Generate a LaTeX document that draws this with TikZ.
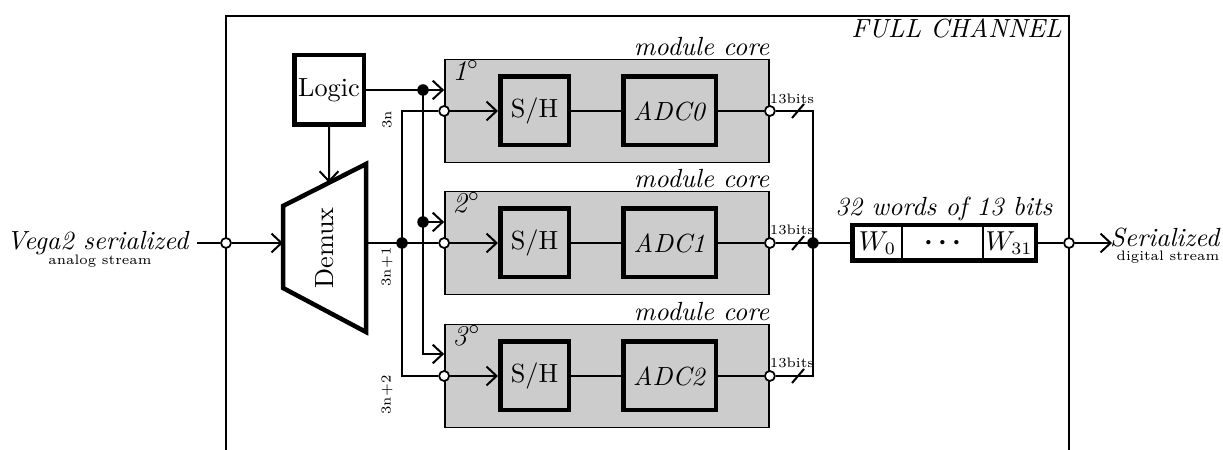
\documentclass[tikz,border=0pt]{standalone}
\usepackage{bm}
\usetikzlibrary{arrows.meta,calc}
\definecolor{modgray}{gray}{0.8}
\tikzset{
  conn/.style={line width=0.8pt},
  arr/.style={conn,-{Straight Barb[length=4pt,width=7.5pt,line width=0.8pt]}},
  thickbox/.style={draw,line width=1.8pt,inner sep=0pt},
  module/.style={draw,line width=0.7pt,fill=modgray,minimum width=129.6pt,minimum height=41.2pt,inner sep=0pt},
  opendot/.style={circle,draw,fill=white,line width=0.7pt,minimum size=4pt,inner sep=0pt},
  blackdot/.style={circle,fill=black,minimum size=4.6pt,inner sep=0pt},
  tinylab/.style={font=\fontsize{5.5}{6.5}\selectfont,inner sep=0pt},
  wcell/.style={draw,line width=0.6pt,minimum height=13.6pt,inner sep=0pt},
  lab/.style={inner sep=0pt},
}
\begin{document}
\begin{tikzpicture}[x=0.4pt,y=-0.4pt,font=\fontsize{10.5}{12.6}\selectfont]
\useasboundingbox (0,0) rectangle (1223,450);
% frame
\draw[line width=0.8pt] (226,470) -- (226,16) -- (1069,16) -- (1069,470);
\node[lab,anchor=base east] (fc) at (1062,38) {\textit{FULL CHANNEL}};

% logic and demux
\node[thickbox,minimum size=27.8pt] (logic) at (329,90) {Logic};
\coordinate (dtl) at (283,206);
\coordinate (dtr) at (366,164);
\coordinate (dbr) at (366,332);
\coordinate (dbl) at (283,288);
\draw[line width=1.8pt,line join=miter] (dtl) -- (dtr) -- (dbr) -- (dbl) -- cycle;
\node[rotate=90] (demuxlab) at (325,248) {Demux};
\coordinate (din) at (283,243);
\coordinate (dout) at (366,243);
\coordinate (dtop) at ($(dtl)!0.5542!(dtr)$);
\draw[arr] (logic.south) -- (dtop);

% modules
\foreach \i/\y/\n in {1/111/0,2/243/1,3/376/2}{
  \node[module] (m\i) at (607,\y) {};
  \node[thickbox,fill=modgray,minimum size=27.4pt] (sh\i) at (534.5,\y) {S/H};
  \node[thickbox,fill=modgray,minimum width=37pt,minimum height=27.4pt] (adc\i) at (669.5,\y) {\textit{ADC\n}};
  \node[lab,anchor=base east] (mc\i) at ($(m\i.north east)+(0,-3)$) {\textit{module core}};
  \node[lab,anchor=base west,font=\fontsize{11.5}{13}\selectfont] (ord\i) at ($(m\i.north west)+(8,22)$) {\textit{\i}$^\circ$};
  \node[opendot] (i\i) at (m\i.west) {};
  \node[opendot] (o\i) at (m\i.east) {};
  \draw[arr] (i\i) -- (sh\i);
  \draw[conn] (sh\i) -- (adc\i);
  \draw[conn] (adc\i) -- (o\i);
}

% input
\node[lab,anchor=base east] (vega) at (190,250) {\textit{Vega2 serialized}};
\node[tinylab,anchor=base] (as) at (100,265) {analog stream};
\node[opendot] (cin) at (226,243) {};
\coordinate (vstart) at (197,243);
\draw[conn] (vstart) -- (cin);
\draw[arr] (cin) -- (din);

% logic to modules
\node[blackdot] (b1) at (423,90) {};
\node[blackdot] (b2) at (423,222) {};
\coordinate (t3) at (423,354);
\draw[arr] (logic.east) -- (logic.east -| m1.west);
\draw[arr] (b1.center) -- (t3) -- (t3 -| m3.west);
\draw[arr] (b2.center) -- (b2 -| m2.west);

% demux to modules
\node[blackdot] (b3) at (402,243) {};
\coordinate (v1) at (402,111);
\coordinate (v3) at (402,376);
\draw[conn] (dout) -- (i2);
\draw[conn] (i1) -- (v1) -- (v3) -- (i3);
\node[tinylab,rotate=90] (n1) at (387,120) {3n};
\node[tinylab,rotate=90] (n2) at (387,267) {3n+1};
\node[tinylab,rotate=90] (n3) at (387,395) {3n+2};

% outputs
\coordinate (r1) at (813,111);
\coordinate (r3) at (813,376);
\node[blackdot] (b4) at (813,243) {};
\draw[conn] (o1) -- (r1) -- (r3) -- (o3);
\foreach \i/\y/\ly in {1/111/99,2/243/230,3/376/363}{
  \coordinate (s\i) at (798,\y);
  \draw[conn] ($(s\i)+(-6,7)$) -- ($(s\i)+(6,-7)$);
  \node[tinylab] (bl\i) at (792,\ly) {13bits};
}

% word buffer
\node[wcell,minimum width=19.6pt] (w0) at (877.5,243) {$W_0$};
\node[wcell,minimum width=32.4pt] (wd) at (942.5,243) {$\bm{\cdots}$};
\node[wcell,minimum width=20.8pt] (w31) at (1009,243) {$W_{31}$};
\draw[line width=1.8pt] (w0.north west) rectangle (w31.south east);
\node[lab,anchor=base] (wl) at (944,216) {\textit{32 words of 13 bits}};
\draw[conn] (o2) -- (w0.west);

% output
\node[opendot] (cout) at (1069,243) {};
\coordinate (serin) at (1112,243);
\draw[conn] (w31.east) -- (cout);
\draw[arr] (cout) -- (serin);
\node[lab,anchor=base east] (ser) at (1221,247) {\textit{Serialized}};
\node[tinylab,anchor=base] (dst) at (1168,261) {digital stream};
\end{tikzpicture}
\end{document}
